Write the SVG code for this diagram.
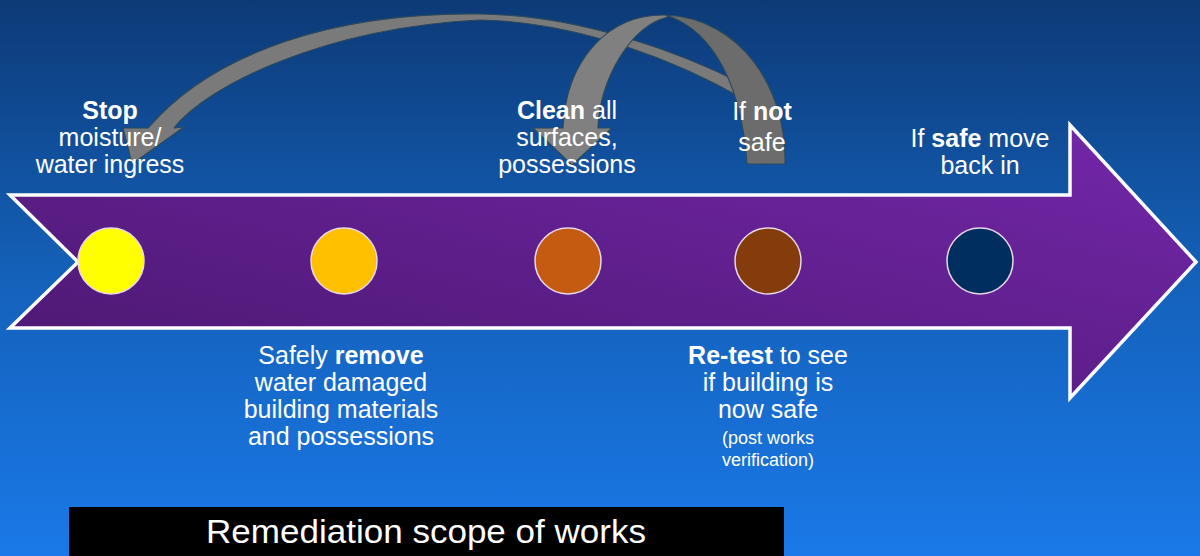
<svg xmlns="http://www.w3.org/2000/svg" width="1200" height="556" viewBox="0 0 1200 556">
<defs>
<linearGradient id="bg" x1="0" y1="0" x2="0" y2="1">
<stop offset="0" stop-color="#0D3A77"/>
<stop offset="0.5" stop-color="#1461BA"/>
<stop offset="1" stop-color="#1A79E8"/>
</linearGradient>
<linearGradient id="purp" x1="0" y1="1" x2="1" y2="0">
<stop offset="0" stop-color="#4A176E"/>
<stop offset="1" stop-color="#7427AA"/>
</linearGradient>
</defs>
<style>
.t{font-family:"Liberation Sans",Arial,sans-serif;font-size:25px;fill:#FFFFFF;text-anchor:middle}
.s{font-size:18px}
.b{font-weight:bold}
.dot{stroke:#E8D8E8;stroke-width:1.5}
.band{stroke:#2B4A5C;stroke-width:1.2;stroke-linejoin:round}
</style>
<rect x="0" y="0" width="1200" height="556" fill="url(#bg)"/>

<g id="timeline">
<path d="M10,195 L1070,195 L1070,125 L1196,262 L1070,398 L1070,328 L10,328 L78,262 Z" fill="url(#purp)" stroke="#FFFFFF" stroke-width="3.5" stroke-linejoin="miter"/>
</g>

<g id="connectors">
<path id="loop-back" class="band" fill="#7A7A7A" d="M745,85 C680,52 580,15 480,14 C340,12 215,50 148,128 L123,128 L132,164 L184,127 L174,128 C205,88 320,28 480,20 C580,22 680,62 745,100 Z"/>
<path id="retest-back" class="band" fill="#6C6C6C" d="M785,164 C787,90 742,18 665,15 C700,25 740,65 747,164 Z"/>
<path id="retest-front" class="band" fill="#808080" d="M665,15 C608,14 566,60 563,128 L533,128 L572,165 L612,128 L598,128 C600,80 630,26 668,17 C667,16 666,15 665,15 Z"/>
</g>

<g id="step1">
<circle class="dot" cx="111" cy="261" r="33" fill="#FFFF00"/>
<text class="t"><tspan x="110" y="119" class="b">Stop</tspan><tspan x="110" y="146">moisture/</tspan><tspan x="110" y="173">water ingress</tspan></text>
</g>
<g id="step2">
<circle class="dot" cx="344" cy="261" r="33" fill="#FFC000"/>
<text class="t"><tspan x="341" y="364">Safely <tspan class="b">remove</tspan></tspan><tspan x="341" y="391">water damaged</tspan><tspan x="341" y="418">building materials</tspan><tspan x="341" y="445">and possessions</tspan></text>
</g>
<g id="step3">
<circle class="dot" cx="568" cy="261" r="33" fill="#C55A11"/>
<text class="t"><tspan x="567" y="119"><tspan class="b">Clean</tspan> all</tspan><tspan x="567" y="146">surfaces,</tspan><tspan x="567" y="173">possessions</tspan></text>
</g>
<g id="step4">
<circle class="dot" cx="768" cy="261" r="33" fill="#843C0C"/>
<text class="t"><tspan x="762" y="120">If <tspan class="b">not</tspan></tspan><tspan x="762" y="151">safe</tspan></text>
<text class="t"><tspan x="768" y="364"><tspan class="b">Re-test</tspan> to see</tspan><tspan x="768" y="391">if building is</tspan><tspan x="768" y="418">now safe</tspan></text>
<text class="t s"><tspan x="768" y="444">(post works</tspan><tspan x="768" y="466">verification)</tspan></text>
</g>
<g id="step5">
<circle class="dot" cx="980" cy="261" r="33" fill="#002E5E"/>
<text class="t"><tspan x="980" y="147">If <tspan class="b">safe</tspan> move</tspan><tspan x="980" y="174">back in</tspan></text>
</g>

<g id="caption">
<rect x="69" y="507" width="715" height="49" fill="#000000"/>
<text class="t" x="426" y="543" style="font-size:33px" textLength="440" lengthAdjust="spacingAndGlyphs">Remediation scope of works</text>
</g>
</svg>
